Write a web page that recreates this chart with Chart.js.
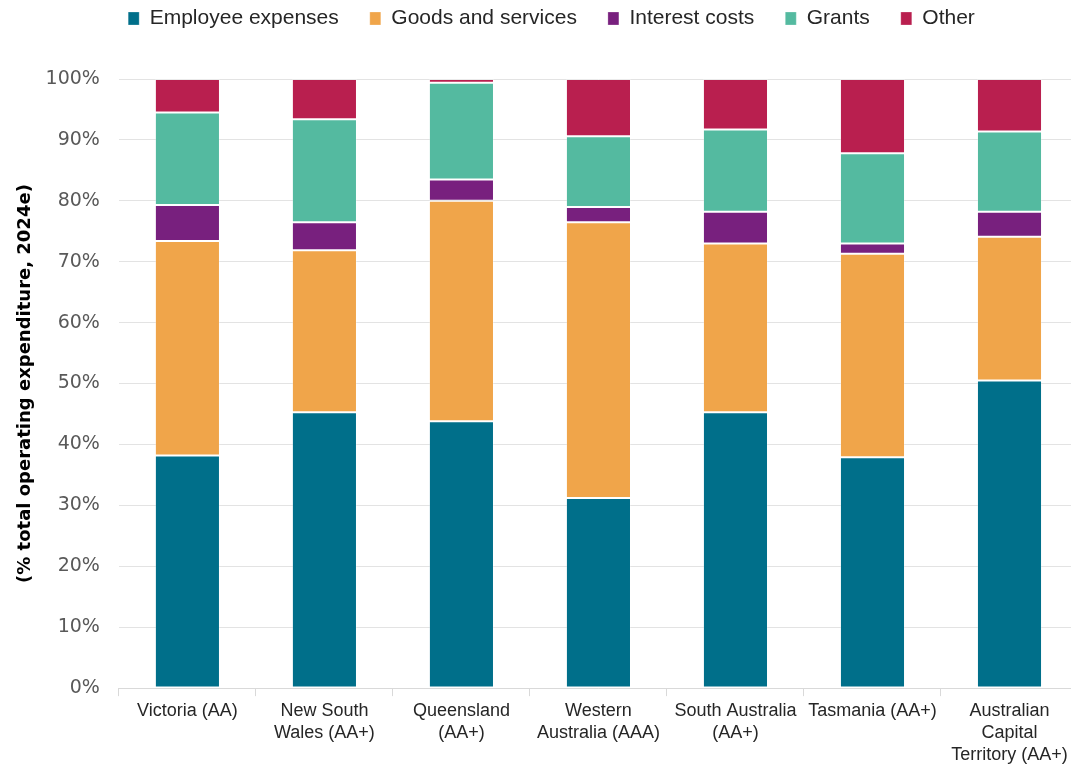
<!DOCTYPE html>
<html>
<head>
<meta charset="utf-8">
<script src="https://cdn.jsdelivr.net/npm/chart.js@4.4.1/dist/chart.umd.min.js"></script>
<style>
  html, body { margin: 0; padding: 0; background: #fff; overflow: hidden; }
  #wrap { width: 1071px; height: 764px; overflow: hidden; }
</style>
</head>
<body>
<!-- canvas is a little wider than the window: the last column runs off the right edge like the original -->
<div id="wrap"><canvas id="myChart" width="1078" height="764"></canvas></div>
<script>
// states and ratings
const states = [
  'Victoria (AA)',
  ['New South', 'Wales (AA+)'],
  ['Queensland', '(AA+)'],
  ['Western', 'Australia (AAA)'],
  ['South Australia', '(AA+)'],
  'Tasmania (AA+)',
  ['Australian', 'Capital', 'Territory (AA+)']
];

// % of total operating expenditure
const employeeExpenses = [38.2, 45.3, 43.8, 31.2, 45.3, 37.9, 50.5];
const goodsAndServices = [35.2, 26.6, 36.2, 45.3, 27.7, 33.4, 23.6];
const interestCosts = [5.9, 4.6, 3.5, 2.5, 5.2, 1.7, 4.1];
const grants = [15.2, 16.9, 15.9, 11.6, 13.5, 14.8, 13.2];
const other = [5.5, 6.6, 0.6, 9.4, 8.3, 12.2, 8.6];

const sans = "'Liberation Sans', Arial, sans-serif";

const ctx = document.getElementById('myChart');

function bar(label, data, color) {
  return {
    label: label,
    data: data,
    backgroundColor: color,
    borderColor: 'rgba(255,255,255,0.25)',
    borderWidth: 1,
    borderSkipped: false,
    categoryPercentage: 1,
    barPercentage: 0.475
  };
}

// push the plot down below the legend without changing the legend's spacing
const legendGap = {
  id: 'legendGap',
  beforeInit(chart) {
    const fit = chart.legend.fit;
    chart.legend.fit = function () {
      fit.bind(chart.legend)();
      this.height += 40;
    };
  }
};

new Chart(ctx, {
  type: 'bar',
  data: {
    labels: states,
    datasets: [
      bar('Employee expenses', employeeExpenses, '#006F8A'),
      bar('Goods and services', goodsAndServices, '#F0A54A'),
      bar('Interest costs', interestCosts, '#78207E'),
      bar('Grants', grants, '#54BAA0'),
      bar('Other', other, '#B91F4F')
    ]
  },
  plugins: [legendGap],
  options: {
    responsive: false,
    animation: { duration: 0 },
    layout: { padding: { left: 25, right: 0, top: -23, bottom: -6 } },
    plugins: {
      tooltip: { enabled: false },
      legend: {
        position: 'top',
        labels: {
          boxWidth: 11,
          boxHeight: 13,
          padding: 31,
          color: '#262626',
          font: { family: sans, size: 21 }
        }
      }
    },
    scales: {
      x: {
        stacked: true,
        offset: true,
        grid: {
          display: true,
          drawOnChartArea: false,
          offset: true,
          tickLength: 8,
          color: '#d9d9d9'
        },
        border: { display: true, color: '#d9d9d9' },
        ticks: {
          autoSkip: false,
          maxRotation: 0,
          color: '#262626',
          padding: 4,
          font: { family: sans, size: 18, lineHeight: 1.22 }
        }
      },
      y: {
        stacked: true,
        min: 0,
        max: 100,
        grid: { color: '#e3e3e3', drawTicks: false },
        border: { display: false },
        ticks: {
          stepSize: 10,
          padding: 19,
          color: '#595959',
          font: { family: "'DejaVu Sans', sans-serif", size: 19 },
          callback: function (v) { return v + '%'; }
        },
        title: {
          display: true,
          text: '(% total operating expenditure, 2024e)',
          color: '#000',
          padding: { top: -10, bottom: -10 },
          font: { family: "'DejaVu Sans', sans-serif", size: 18, weight: 'bold' }
        }
      }
    }
  }
});
</script>
</body>
</html>
